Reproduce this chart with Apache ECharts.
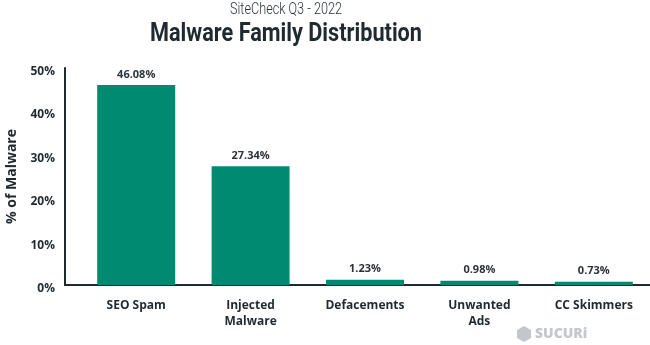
<!DOCTYPE html>
<html>
<head>
<meta charset="utf-8">
<script src="https://cdn.jsdelivr.net/npm/echarts@6/dist/echarts.min.js"></script>
<style>
  html, body { margin: 0; padding: 0; background: #fff; }
  #chart { width: 650px; height: 345px; }
</style>
</head>
<body>
<div id="chart"></div>
<script>
// Malware family shares, SiteCheck Q3 2022
const categories = ['SEO Spam', 'Injected\nMalware', 'Defacements', 'Unwanted\nAds', 'CC Skimmers'];
const shares = [46.08, 27.34, 1.23, 0.98, 0.73];
const yTicks = [0, 10, 20, 30, 40, 50];
const subtitle = 'SiteCheck Q3 - 2022';
const heading = 'Malware Family Distribution';

const ink = '#1f2a30';
const teal = '#008a71';
const font = '"Open Sans", "Noto Sans", sans-serif';

// The headings use a condensed look: measure the text and squeeze it horizontally.
const subFont = '300 16px Roboto, sans-serif';
const headFont = '700 25px Roboto, sans-serif';
const ctx = document.createElement('canvas').getContext('2d');
function squeeze(text, cssFont, targetWidth) {
  ctx.font = cssFont;
  return targetWidth / ctx.measureText(text).width;
}
const subScale = squeeze(subtitle, subFont, 112);
const headScale = squeeze(heading, headFont, 272);

const chart = echarts.init(document.getElementById('chart'), null, { renderer: 'canvas' });

chart.setOption({
  animation: false,
  backgroundColor: '#ffffff',
  grid: {
    left: 79, right: -1, top: 68, bottom: 60,
    containLabel: false, outerBoundsMode: 'none'
  },
  xAxis: {
    type: 'category',
    data: categories,
    axisTick: { show: false },
    axisLine: { lineStyle: { color: ink, width: 2 } },
    axisLabel: {
      fontFamily: font, fontWeight: 700, fontSize: 12, color: ink,
      margin: 13, lineHeight: 16, interval: 0
    }
  },
  yAxis: {
    type: 'value',
    min: yTicks[0],
    max: yTicks[yTicks.length - 1],
    interval: yTicks[1] - yTicks[0],
    offset: 14,
    name: '% of Malware',
    nameLocation: 'middle',
    nameGap: 46,
    nameRotate: 90,
    nameTextStyle: { fontFamily: font, fontWeight: 700, fontSize: 14, color: ink },
    splitLine: { show: false },
    axisTick: { show: false },
    axisLine: { show: true, lineStyle: { color: ink, width: 2 } },
    axisLabel: {
      fontFamily: font, fontWeight: 700, fontSize: 12, color: ink, margin: 10,
      verticalAlign: 'top', lineHeight: 7,
      formatter: v => v + '%'
    }
  },
  series: [{
    type: 'bar',
    data: shares,
    barWidth: 78,
    itemStyle: { color: teal },
    label: {
      show: true,
      position: 'top',
      distance: 5,
      fontFamily: font, fontWeight: 700, fontSize: 11, color: '#2b3338',
      formatter: p => p.value.toFixed(2) + '%'
    }
  }],
  graphic: [
    // headings
    {
      type: 'text',
      x: 286, y: 10, scaleX: subScale,
      style: {
        text: subtitle, font: subFont, fill: '#2b3338',
        align: 'center', verticalAlign: 'middle'
      }
    },
    {
      type: 'text',
      x: 286, y: 35, scaleX: headScale,
      style: {
        text: heading, font: headFont, fill: ink,
        align: 'center', verticalAlign: 'middle'
      }
    },
    // extend the baseline back to the value axis
    {
      type: 'line',
      shape: { x1: 64, y1: 285, x2: 80, y2: 285 },
      style: { stroke: ink, lineWidth: 2 }
    },
    // brand mark in the corner
    {
      type: 'group',
      left: 517, top: 326,
      children: [
        {
          type: 'polygon',
          shape: { points: [[8, 0], [15, 4], [15, 12], [8, 16], [1, 12], [1, 4]] },
          style: { fill: '#c4c7c9' }
        },
        {
          type: 'text',
          x: 19, y: 1,
          style: {
            text: 'SUCURi', fill: '#c4c7c9',
            font: '800 14px "Open Sans", sans-serif'
          }
        }
      ]
    }
  ]
});
</script>
</body>
</html>
